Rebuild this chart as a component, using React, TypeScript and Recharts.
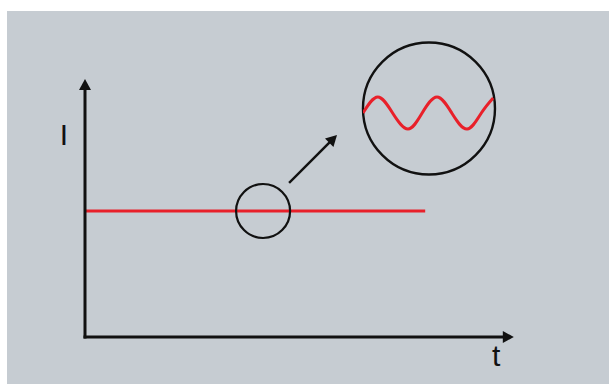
import React from "react";
import { ComposedChart, LineChart, Line, XAxis, YAxis, ReferenceLine, ReferenceDot } from "recharts";

// steady current I(t), in chart units
const steadyT = [0, 8.1];
const steadyI = [3, 3];

// axis extents (where the arrow tips sit)
const tAxisEnd = 10.21;
const iAxisEnd = 6.14;

// magnifier: small circle on the line, big circle with the zoomed ripple
const lensT = [4.24, 8.19];
const lensI = [3, 5.44];

// pointer arrow from the small lens to the big one
const pointerFrom = { t: 4.88, I: 3.69 };
const pointerTo = { t: 6.0, I: 4.81 };

// ripple inside the big lens, phase in periods, value in amplitude units
const wavePhase = [0, 0.25, 0.5, 0.76, 1, 1.25, 1.5, 1.76, 2, 2.2];
const waveValue = [0, 1, 0, -1, 0, 1, 0, -1, 0, 0.94];

const axisLabels = [
  { text: "I", t: -0.5, I: 4.82 },
  { text: "t", t: 9.79, I: -0.44 },
];

const currentData = steadyT.map((t, i) => ({ t, I: steadyI[i] }));
const waveData = wavePhase.map((p, i) => ({ p, v: waveValue[i] }));

const INK = "#111111";
const RED = "#e8202a";
const FONT = "'Liberation Sans', Arial, sans-serif";

function ArrowShape(props: any) {
  const { x1, y1, x2, y2 } = props;
  const a = Math.atan2(y2 - y1, x2 - x1);
  const len = 11;
  const half = 6;
  const bx = x2 - len * Math.cos(a);
  const by = y2 - len * Math.sin(a);
  const pts = [
    `${x2},${y2}`,
    `${bx - half * Math.sin(a)},${by + half * Math.cos(a)}`,
    `${bx + half * Math.sin(a)},${by - half * Math.cos(a)}`,
  ].join(" ");
  return (
    <g>
      <line x1={x1} y1={y1} x2={bx + Math.cos(a)} y2={by + Math.sin(a)} stroke={INK} strokeWidth={props.strokeWidth} strokeLinecap="square" />
      <polygon points={pts} fill={INK} />
    </g>
  );
}

export default function App() {
  return (
    <div style={{ position: "absolute", left: 0, top: 0, width: 609, height: 384, background: "#ffffff" }}>
      <div style={{ position: "absolute", left: 7, top: 11, width: 602, height: 373, background: "#c6ccd2" }} />
      <div style={{ position: "absolute", left: 0, top: 0 }}>
        <ComposedChart width={609} height={384} data={currentData} margin={{ top: 1, right: 20, bottom: 47, left: 85 }}>
          <XAxis dataKey="t" type="number" domain={[0, 12]} allowDataOverflow hide />
          <YAxis type="number" domain={[0, 8]} allowDataOverflow hide />
          <Line dataKey="I" stroke={RED} strokeWidth={3} dot={false} isAnimationActive={false} />
          <ReferenceLine segment={[{ x: 0, y: 0 }, { x: 0, y: iAxisEnd }]} strokeWidth={3} shape={ArrowShape} ifOverflow="visible" />
          <ReferenceLine segment={[{ x: 0, y: 0 }, { x: tAxisEnd, y: 0 }]} strokeWidth={3} shape={ArrowShape} ifOverflow="visible" />
          <ReferenceLine
            segment={[{ x: pointerFrom.t, y: pointerFrom.I }, { x: pointerTo.t, y: pointerTo.I }]}
            strokeWidth={2.5}
            shape={ArrowShape}
            ifOverflow="visible"
          />
          <ReferenceDot x={lensT[0]} y={lensI[0]} r={27} fill="none" stroke={INK} strokeWidth={2.2} ifOverflow="visible" />
          <ReferenceDot x={lensT[1]} y={lensI[1]} r={66} fill="none" stroke={INK} strokeWidth={2.4} ifOverflow="visible" />
          {axisLabels.map((l) => (
            <ReferenceDot
              key={l.text}
              x={l.t}
              y={l.I}
              r={0}
              fill="none"
              stroke="none"
              ifOverflow="visible"
              label={{ value: l.text, position: "center", fontSize: 30, fill: INK, fontFamily: FONT }}
            />
          ))}
        </ComposedChart>
      </div>
      <div style={{ position: "absolute", left: 363, top: 49 }}>
        <LineChart width={142} height={128} data={waveData} margin={{ top: 0, right: 0, bottom: 0, left: 0 }}>
          <XAxis dataKey="p" type="number" domain={[0, 2.4]} allowDataOverflow hide />
          <YAxis type="number" domain={[-4, 4]} allowDataOverflow hide />
          <Line dataKey="v" type="natural" stroke={RED} strokeWidth={3} dot={false} isAnimationActive={false} />
        </LineChart>
      </div>
    </div>
  );
}
